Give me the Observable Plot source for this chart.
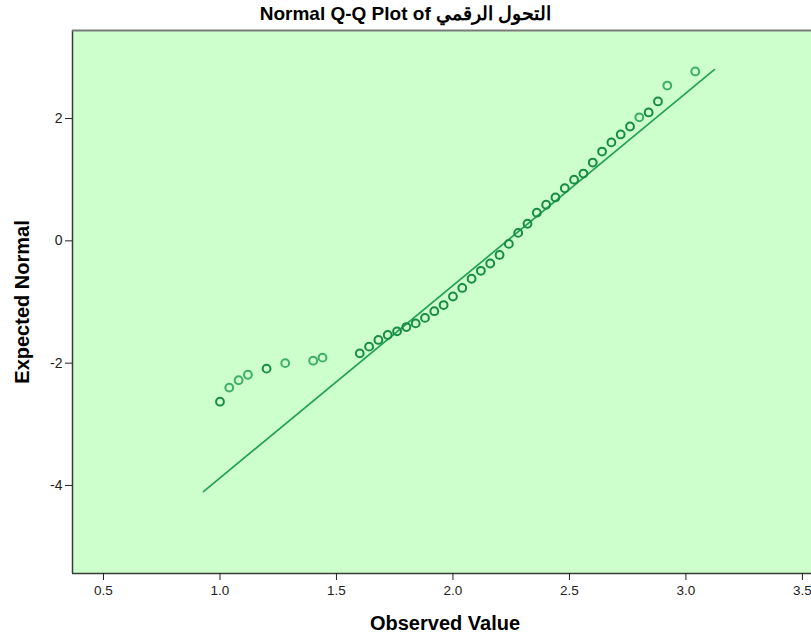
<!DOCTYPE html>
<html>
<head>
<meta charset="utf-8">
<script src="https://cdn.jsdelivr.net/npm/d3@7"></script>
<script src="https://cdn.jsdelivr.net/npm/@observablehq/plot@0.6"></script>
<style>
  html, body { margin: 0; padding: 0; background: #fff; }
  #title { width: 811px; height: 28px; line-height: 28px; text-align: center;
           font-family: "Liberation Sans", Arial, sans-serif; font-weight: bold; font-size: 19px; color: #000; }
  svg { display: block; }
</style>
</head>
<body>
<div id="title">Normal Q-Q Plot of التحول الرقمي</div>
<div id="chart"></div>
<script>
const observed = [1.00, 1.04, 1.08, 1.12, 1.20, 1.28, 1.40, 1.44,
  1.60, 1.64, 1.68, 1.72, 1.76, 1.80, 1.84, 1.88, 1.92, 1.96,
  2.00, 2.04, 2.08, 2.12, 2.16, 2.20, 2.24, 2.28, 2.32, 2.36,
  2.40, 2.44, 2.48, 2.52, 2.56, 2.60, 2.64, 2.68, 2.72, 2.76,
  2.80, 2.84, 2.88, 2.92, 3.04];
const expected = [-2.63, -2.40, -2.28, -2.19, -2.09, -2.00, -1.96, -1.91,
  -1.84, -1.73, -1.62, -1.54, -1.48, -1.41, -1.35, -1.26, -1.15, -1.05,
  -0.91, -0.77, -0.62, -0.49, -0.37, -0.23, -0.05, 0.13, 0.28, 0.46,
  0.59, 0.71, 0.86, 1.00, 1.10, 1.28, 1.46, 1.61, 1.74, 1.87,
  2.02, 2.10, 2.28, 2.54, 2.77];
// 2 = darker (overlapping cases), 1 = single
const freq = [2, 1, 1, 1, 2, 1, 1, 1,
  2, 2, 2, 2, 2, 2, 2, 2, 2, 2,
  2, 2, 2, 2, 2, 2, 2, 2, 2, 2,
  2, 2, 2, 2, 2, 2, 2, 2, 2, 2,
  1, 2, 2, 1, 1];
// Reference line endpoints
const lineX = [0.929, 3.122];
const lineY = [-4.10, 2.80];
// Axis ticks
const xTicks = [0.5, 1.0, 1.5, 2.0, 2.5, 3.0, 3.5];
const yTicks = [-4, -2, 0, 2];
const xDomain = [0.367, 3.539];
const yDomain = [-5.44, 3.44];

const points = observed.map((x, i) => ({x, y: expected[i], n: freq[i]}));
const refLine = lineX.map((x, i) => ({x, y: lineY[i]}));

const font = '"Liberation Sans", Arial, sans-serif';

const chart = Plot.plot({
  width: 811,
  height: 611,
  marginTop: 2,
  marginBottom: 66,
  marginLeft: 72,
  marginRight: 0,
  style: {fontFamily: font, background: "transparent", overflow: "visible"},
  x: {domain: xDomain},
  y: {domain: yDomain},
  marks: [
    Plot.frame({fill: "#ccffcc", stroke: null}),
    Plot.line(refLine, {x: "x", y: "y", stroke: "#25a152", strokeWidth: 1.7}),
    Plot.dot(points, {x: "x", y: "y", r: 3.9, fill: "none", strokeWidth: 2,
      stroke: d => d.n > 1 ? "#198c43" : "#3fae66"}),
    Plot.ruleX([xDomain[0]], {stroke: "#3a3a3a", strokeWidth: 1.5}),
    Plot.ruleY([yDomain[1]], {stroke: "#7a7a7a", strokeWidth: 2}),
    Plot.ruleY([yDomain[0]], {stroke: "#3a3a3a", strokeWidth: 1.5}),
    Plot.axisX({ticks: xTicks, tickSize: 7, tickPadding: 5, tickFormat: d => d.toFixed(1),
      label: null, stroke: "#222", color: "#222"}),
    Plot.axisY({ticks: yTicks, tickSize: 7, tickPadding: 3, tickFormat: d => String(d),
      label: null, stroke: "#222", color: "#222"}),
    Plot.text(["Observed Value"], {frameAnchor: "bottom", dy: 56, dx: 3, text: d => d,
      fontSize: 20, fontWeight: "bold", fill: "#000", textAnchor: "middle"}),
    Plot.text(["Expected Normal"], {frameAnchor: "left", dx: -50, rotate: -90, text: d => d,
      fontSize: 20, fontWeight: "bold", fill: "#000", textAnchor: "middle"})
  ]
});
document.getElementById("chart").appendChild(chart);
// enlarge the tick labels
d3.select(chart).selectAll("g").filter(function () {
  const a = this.getAttribute("aria-label") || "";
  return a.includes("tick label");
}).each(function () {
  const a = this.getAttribute("aria-label");
  const size = a.startsWith("x") ? "13.5px" : "14px";
  d3.select(this).style("font-size", size).attr("font-size", size);
  d3.select(this).selectAll("text").style("font-size", size);
});
</script>
</body>
</html>
